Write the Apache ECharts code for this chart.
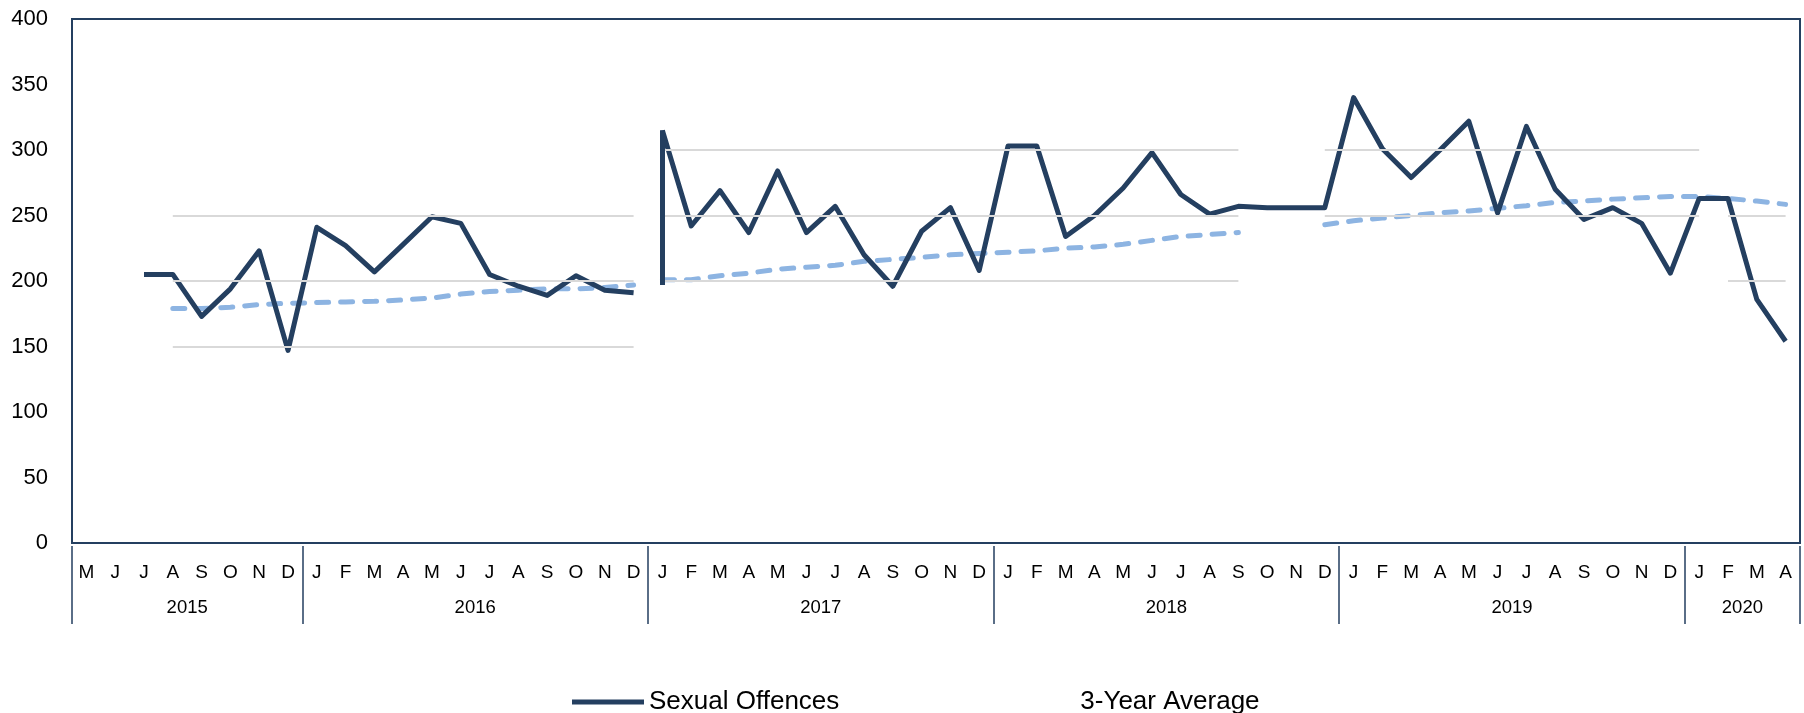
<!DOCTYPE html>
<html><head><meta charset="utf-8">
<script src="https://cdn.jsdelivr.net/npm/echarts@6/dist/echarts.min.js"></script>
<style>html,body{margin:0;padding:0;background:#fff}#c{width:1804px;height:713px}</style>
</head><body><div id="c"></div>
<script>
// ---- data ----
const monthInitials = ['J','F','M','A','M','J','J','A','S','O','N','D'];
const years = [2015, 2016, 2017, 2018, 2019, 2020];
const firstMonth = { year: 2015, month: 5 };   // May 2015
const lastMonth  = { year: 2020, month: 4 };   // April 2020

const sexualOffences = [
  null, null, 205, 205, 173, 194, 223, 147,
  241, 227, 207, 228, 249, 244, 205, 196, 189, 204, 193, 191,
  315, 242, 269, 237, 284, 237, 257, 220, 196, 238, 256, 208,
  303, 303, 234, 250, 271, 298, 266, 251, 257, 256, 256, 256,
  340, 301, 279, 300, 322, 252, 318, 270, 247, 256, 244, 206,
  263, 263, 186, 154
];
const threeYearAverage = [
  null, null, null, 179, 179, 180, 182, 183,
  183.5, 184, 184.5, 185.5, 187, 190, 192, 193, 194, 194, 195, 197,
  201, 201, 204, 206, 209, 210.5, 212, 215, 216.5, 218, 220, 221,
  222, 223, 225, 226, 228, 231, 234, 235.5, 237, null, null, 243,
  246, 248, 250, 252, 253.5, 255.5, 257.5, 260, 261, 262.5, 263.5, 264.5,
  264.5, 263, 261, 258.5
];
const yMin = 0, yMax = 400, yStep = 50;
const seriesBreak = '2017-01';          // both lines are broken before this month
const dropAtBreak = [197, 315];         // vertical stroke drawn at the break month
const gridSegments = [
  { from: '2015-08', to: '2016-12', values: [150, 200, 250] },
  { from: '2017-01', to: '2018-09', values: [200, 250, 300] },
  { from: '2018-12', to: '2020-01', values: [250, 300] },
  { from: '2020-02', to: '2020-04', values: [200, 250] }
];

// ---- derived ----
const categories = [];
for (let y = firstMonth.year; y <= lastMonth.year; y++) {
  const m0 = y === firstMonth.year ? firstMonth.month : 1;
  const m1 = y === lastMonth.year ? lastMonth.month : 12;
  for (let m = m0; m <= m1; m++) categories.push(y + '-' + String(m).padStart(2, '0'));
}
const idx = k => categories.indexOf(k);
const breakIdx = idx(seriesBreak);
const part = (arr, a, b) => arr.map((v, i) => (i >= a && i < b ? v : null));

const groupBounds = [0];
const groupMids = [];
years.forEach(y => {
  const n = categories.filter(c => c.startsWith(y + '-')).length;
  const start = groupBounds[groupBounds.length - 1];
  groupMids.push(start + n / 2);
  groupBounds.push(start + n);
});

const NAVY = '#243F60';
const LIGHT = '#8DB4E2';
const FONT = 'Liberation Sans, Arial, sans-serif';

const gridLineData = [];
gridSegments.forEach(s => s.values.forEach(v => {
  gridLineData.push([{ coord: [idx(s.from), v] }, { coord: [idx(s.to), v] }]);
}));

const solidStyle = { color: NAVY, width: 5, join: 'round' };
const dashStyle = { color: LIGHT, width: 5, type: [12, 12], cap: 'round', join: 'round' };

const chart = echarts.init(document.getElementById('c'), null, { renderer: 'canvas' });
chart.setOption({
  animation: false,
  backgroundColor: '#fff',
  textStyle: { fontFamily: FONT },
  grid: {
    left: 72, top: 19, width: 1728, height: 524,
    show: true, borderColor: NAVY, borderWidth: 2,
    containLabel: false, outerBoundsMode: 'none'
  },
  legend: {
    left: 567, top: 684,
    icon: 'rect', itemWidth: 72, itemHeight: 5, itemGap: 164,
    textStyle: { fontSize: 26, color: '#000', fontFamily: FONT },
    selectedMode: false,
    data: [
      { name: 'Sexual Offences' },
      { name: '3-Year Average', itemStyle: { opacity: 0 } }
    ]
  },
  xAxis: [
    {
      type: 'category', data: categories, boundaryGap: true,
      axisLine: { show: false }, axisTick: { show: false },
      axisLabel: {
        interval: 0, margin: 20, fontSize: 19, color: '#000', fontFamily: FONT,
        formatter: v => monthInitials[parseInt(v.slice(5), 10) - 1]
      },
      splitLine: { show: false }
    },
    {
      type: 'value', min: 0, max: categories.length, position: 'bottom', offset: 3,
      axisLine: { show: false },
      splitLine: { show: false },
      axisTick: { show: true, customValues: groupBounds, length: 78, lineStyle: { color: NAVY, width: 1.5 } },
      axisLabel: {
        customValues: groupMids, margin: 52, fontSize: 18.5, color: '#000', fontFamily: FONT,
        formatter: v => { const i = groupMids.findIndex(m => Math.abs(m - v) < 1e-6); return i >= 0 ? String(years[i]) : ''; }
      }
    }
  ],
  yAxis: {
    type: 'value', min: yMin, max: yMax, interval: yStep,
    axisLine: { show: false }, axisTick: { show: false }, splitLine: { show: false },
    axisLabel: { margin: 24, fontSize: 22, color: '#000', fontFamily: FONT }
  },
  series: [
    {
      name: 'gridlines', type: 'line', data: categories.map(() => null), silent: true, z: 1,
      markLine: {
        silent: true, symbol: ['none', 'none'], label: { show: false }, emphasis: { disabled: true },
        lineStyle: { color: '#D9D9D9', width: 2, type: 'solid' },
        data: gridLineData
      }
    },
    {
      name: '3-Year Average', type: 'line', z: 3, showSymbol: false, connectNulls: false,
      itemStyle: { color: LIGHT }, lineStyle: dashStyle,
      data: part(threeYearAverage, 0, breakIdx)
    },
    {
      name: '3-Year Average', type: 'line', z: 3, showSymbol: false, connectNulls: false,
      itemStyle: { color: LIGHT }, lineStyle: dashStyle,
      data: part(threeYearAverage, breakIdx, categories.length)
    },
    {
      name: 'Sexual Offences', type: 'line', z: 4, showSymbol: false, connectNulls: false,
      itemStyle: { color: NAVY }, lineStyle: solidStyle,
      data: part(sexualOffences, 0, breakIdx)
    },
    {
      name: 'Sexual Offences', type: 'line', z: 4, showSymbol: false, connectNulls: false,
      itemStyle: { color: NAVY }, lineStyle: solidStyle,
      data: part(sexualOffences, breakIdx, categories.length),
      markLine: {
        silent: true, symbol: ['none', 'none'], label: { show: false }, emphasis: { disabled: true },
        lineStyle: { color: NAVY, width: 5, type: 'solid' },
        data: [[{ coord: [breakIdx, dropAtBreak[0]] }, { coord: [breakIdx, dropAtBreak[1]] }]]
      }
    }
  ]
});
</script>
</body></html>
